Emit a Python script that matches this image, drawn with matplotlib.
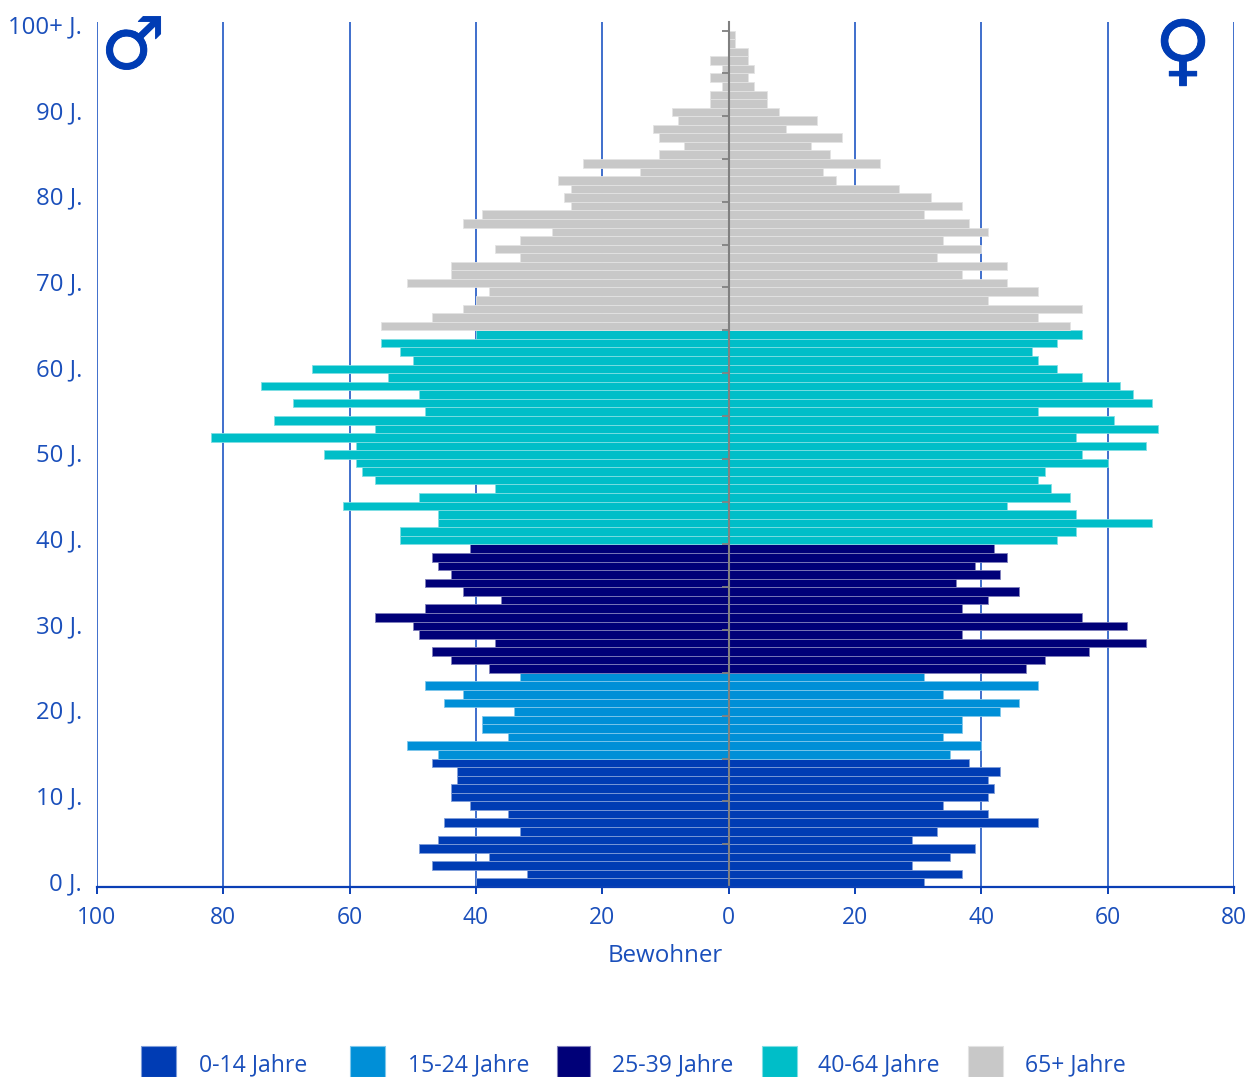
import matplotlib
matplotlib.use("Agg")
import matplotlib.pyplot as plt
from matplotlib.patches import Rectangle
from matplotlib.ticker import FuncFormatter
import matplotlib.patheffects as pe
import numpy as np

plt.rcParams['font.family'] = ['Open Sans', 'DejaVu Sans']

# values per age, youngest first
male_0_14 = [40, 32, 47, 38, 49, 46, 33, 45, 35, 41, 44, 44, 43, 43, 47]
female_0_14 = [31, 37, 29, 35, 39, 29, 33, 49, 41, 34, 41, 42, 41, 43, 38]
male_15_24 = [46, 51, 35, 39, 39, 34, 45, 42, 48, 33]
female_15_24 = [35, 40, 34, 37, 37, 43, 46, 34, 49, 31]
male_25_39 = [38, 44, 47, 37, 49, 50, 56, 48, 36, 42, 48, 44, 46, 47, 41]
female_25_39 = [47, 50, 57, 66, 37, 63, 56, 37, 41, 46, 36, 43, 39, 44, 42]
male_40_64 = [52, 52, 46, 46, 61, 49, 37, 56, 58, 59, 64, 59, 82, 56, 72,
              48, 69, 49, 74, 54, 66, 50, 52, 55, 40]
female_40_64 = [52, 55, 67, 55, 44, 54, 51, 49, 50, 60, 56, 66, 55, 68, 61,
                49, 67, 64, 62, 56, 52, 49, 48, 52, 56]
male_65 = [55, 47, 42, 40, 38, 51, 44, 44, 33, 37, 33, 28, 42, 39, 25, 26, 25, 27,
           14, 23, 11, 7, 11, 12, 8, 9, 3, 3, 1, 3, 1, 3, 0, 0, 0, 0]
female_65 = [54, 49, 56, 41, 49, 44, 37, 44, 33, 40, 34, 41, 38, 31, 37, 32, 27, 17,
             15, 24, 16, 13, 18, 9, 14, 8, 6, 6, 4, 3, 4, 3, 3, 1, 1, 0]

groups = ['0-14 Jahre', '15-24 Jahre', '25-39 Jahre', '40-64 Jahre', '65+ Jahre']
males = [male_0_14, male_15_24, male_25_39, male_40_64, male_65]
females = [female_0_14, female_15_24, female_25_39, female_40_64, female_65]
age_labels = ['0 J.', '10 J.', '20 J.', '30 J.', '40 J.', '50 J.', '60 J.', '70 J.', '80 J.', '90 J.', '100+ J.']
age_label_pos = [0, 10, 20, 30, 40, 50, 60, 70, 80, 90, 100]

colors = ['#003cb4', '#008fd7', '#000078', '#00bec8', '#c8c8c8']
edges = ['#7f9dd9', '#7fc7eb', '#7f7fbb', '#7fdee3', '#e3e3e3']
text_blue = '#1a4fbb'
line_blue = '#0a3fb5'
grid_blue = '#3f6fcc'

W, H = 1250, 1077
fig = plt.figure(figsize=(W / 100, H / 100), dpi=100)
ax = fig.add_axes([97 / W, (H - 887) / H, (1234 - 97) / W, (887 - 22) / H])

start = 0
for m, f, c, e in zip(males, females, colors, edges):
    y = np.arange(start, start + len(m)) + 0.5
    ax.barh(y, -np.array(m), height=1.0, color=c, edgecolor=e, linewidth=0.6)
    ax.barh(y, f, height=1.0, color=c, edgecolor=e, linewidth=0.6)
    start += len(m)

ax.set_xlim(-100, 80)
ax.set_ylim(0, 101)
ax.vlines(range(-100, 81, 20), 0, 101, color=grid_blue, lw=1.4, zorder=0.5)
ax.set_xticks(range(-100, 81, 20))
ax.xaxis.set_major_formatter(FuncFormatter(lambda v, p: str(abs(int(v)))))
ax.tick_params(axis='x', colors=line_blue, labelcolor=text_blue, labelsize=16.5, length=5, width=1.4, pad=9)
ax.set_xlabel('Bewohner', fontsize=17.4, color=text_blue, labelpad=10)

ax.spines['top'].set_visible(False)
ax.spines['right'].set_visible(False)
ax.spines['bottom'].set_color(line_blue)
ax.spines['bottom'].set_linewidth(1.6)
ax.spines['left'].set_position(('data', 0))
ax.spines['left'].set_color('#808080')
ax.spines['left'].set_linewidth(1.5)
ax.set_yticks(range(0, 101, 5))
ax.set_yticklabels([])
ax.tick_params(axis='y', color='#808080', length=5, width=1.3)

for pos, lab in zip(age_label_pos, age_labels):
    ax.text(-15 / 1137, pos + 0.35, lab, transform=ax.get_yaxis_transform(),
            ha='right', va='center', fontsize=17.2, color=text_blue)

# sex symbols
stroke = [pe.withStroke(linewidth=0.6, foreground='#003cb4')]
fig.text(133 / W, 1 - 49 / H, '\u2642', family='DejaVu Sans', fontsize=52, color='#003cb4',
         ha='center', va='center', path_effects=stroke)
fig.text(1183 / W, 1 - 54 / H, '\u2640', family='DejaVu Sans', fontsize=56, color='#003cb4',
         ha='center', va='center', path_effects=stroke)

# legend is spaced unevenly in the original, so placed by hand
swatch_x = [141, 350, 557, 762, 968]
swatch_w = [35, 35, 33, 35, 35]
label_x = [199, 408, 612, 818, 1025]
for i, lab in enumerate(groups):
    fig.add_artist(Rectangle((swatch_x[i] / W, 0), swatch_w[i] / W, 31 / H, transform=fig.transFigure,
                             facecolor=colors[i], edgecolor=edges[i], lw=0.8))
    fig.text(label_x[i] / W, 1 - 1065.5 / H, lab, fontsize=16.6, color=text_blue, ha='left', va='center')

fig.savefig('out.png', dpi=100)
